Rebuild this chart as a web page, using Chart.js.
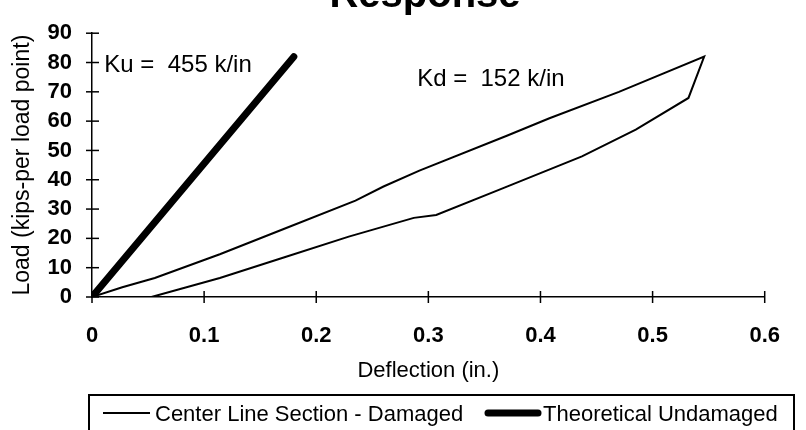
<!DOCTYPE html>
<html>
<head>
<meta charset="utf-8">
<script src="https://cdn.jsdelivr.net/npm/chart.js@4"></script>
<style>
  html, body { margin: 0; padding: 0; background: #fff; }
  #wrap { width: 806px; height: 430px; position: relative; }
</style>
</head>
<body>
<div id="wrap"><canvas id="myChart"></canvas></div>
<script>
const FONT = '"Liberation Sans", Arial, sans-serif';

// deflection (in.) / load (kips per load point)
const damagedX = [0, 0.027, 0.056, 0.114, 0.171, 0.235, 0.26, 0.292, 0.37, 0.408, 0.47, 0.546,
                  0.532, 0.485, 0.437, 0.364, 0.307, 0.287, 0.229, 0.171, 0.114, 0.053];
const damagedY = [0, 3.3, 6.5, 14.6, 23.2, 32.9, 37.7, 43.1, 55, 61, 70, 82,
                  67.9, 57.1, 48, 36.7, 28, 27, 20.6, 13.5, 6.5, 0];
const undamagedX = [0, 0.18];
const undamagedY = [0, 82];

const xTicks = [0, 0.1, 0.2, 0.3, 0.4, 0.5, 0.6];
const yTicks = [0, 10, 20, 30, 40, 50, 60, 70, 80, 90];

const seriesNames = ['Center Line Section - Damaged', 'Theoretical Undamaged'];
const notes = [
  { text: 'Ku =  455 k/in', x: 0.011, y: 79 },
  { text: 'Kd =  152 k/in', x: 0.29, y: 74.4 }
];

const toPoints = (xs, ys) => xs.map((x, i) => ({ x: x, y: ys[i] }));

// little ticks crossing each axis, title, notes and the boxed legend
const extras = {
  id: 'extras',
  afterDraw(chart) {
    const c = chart.ctx;
    const xs = chart.scales.x, ys = chart.scales.y;
    const x0 = xs.getPixelForValue(0), y0 = ys.getPixelForValue(0);
    c.save();
    c.strokeStyle = '#000';
    c.lineWidth = 1.5;
    yTicks.forEach(v => {
      const p = ys.getPixelForValue(v);
      c.beginPath(); c.moveTo(x0 - 6, p); c.lineTo(x0 + 7, p); c.stroke();
    });
    xTicks.forEach(v => {
      const p = xs.getPixelForValue(v);
      c.beginPath(); c.moveTo(p, y0 - 6); c.lineTo(p, y0 + 6); c.stroke();
    });

    c.fillStyle = '#000';
    c.font = 'bold 40px ' + FONT;
    c.textAlign = 'center';
    c.textBaseline = 'alphabetic';
    c.fillText('Response', 425, 7);

    c.font = '24px ' + FONT;
    c.textAlign = 'left';
    c.textBaseline = 'middle';
    notes.forEach(n => c.fillText(n.text, xs.getPixelForValue(n.x), ys.getPixelForValue(n.y)));

    // legend
    c.lineWidth = 2;
    c.strokeRect(89, 395, 705, 60);
    const ds = chart.data.datasets;
    const items = [{ x: 103, len: 47 }, { x: 488, len: 50 }];
    c.font = '22px ' + FONT;
    items.forEach((it, i) => {
      c.lineWidth = ds[i].borderWidth;
      c.lineCap = i === 1 ? 'round' : 'butt';
      c.beginPath(); c.moveTo(it.x, 413); c.lineTo(it.x + it.len, 413); c.stroke();
      c.fillText(ds[i].label, it.x + it.len + 5, 415);
    });
    c.restore();
  }
};

const CONFIG = {
  type: 'scatter',
  data: {
    datasets: [{
      label: seriesNames[0],
      data: toPoints(damagedX, damagedY),
      showLine: true,
      borderColor: '#000',
      borderWidth: 2,
      pointRadius: 0,
      tension: 0
    }, {
      label: seriesNames[1],
      data: toPoints(undamagedX, undamagedY),
      showLine: true,
      borderColor: '#000',
      borderWidth: 7,
      borderCapStyle: 'round',
      pointRadius: 0,
      tension: 0
    }]
  },
  options: {
    responsive: false,
    animation: false,
    layout: { padding: { top: 18, right: 20, bottom: 40, left: 0 } },
    plugins: { legend: { display: false }, tooltip: { enabled: false } },
    scales: {
      x: {
        type: 'linear',
        min: 0,
        max: 0.6,
        afterBuildTicks: s => { s.ticks = xTicks.map(v => ({ value: v })); },
        afterFit: s => { s.height = 93; },
        grid: { display: false, drawTicks: false, tickLength: 0 },
        border: { display: true, color: '#000', width: 1.5 },
        ticks: { color: '#000', padding: 26, autoSkip: false, maxRotation: 0,
                 font: { family: FONT, size: 22, weight: 'bold' },
                 callback: v => String(v) },
        title: { display: true, text: 'Deflection (in.)', color: '#000',
                 font: { family: FONT, size: 22 }, padding: { top: 0, bottom: 6 } }
      },
      y: {
        type: 'linear',
        min: 0,
        max: 90,
        afterBuildTicks: s => { s.ticks = yTicks.map(v => ({ value: v })); },
        afterFit: s => { s.width = 92; },
        grid: { display: false, drawTicks: false, tickLength: 0 },
        border: { display: true, color: '#000', width: 1.5 },
        ticks: { color: '#000', padding: 20, autoSkip: false,
                 font: { family: FONT, size: 22, weight: 'bold' } },
        title: { display: true, text: 'Load (kips-per load point)', color: '#000',
                 font: { family: FONT, size: 23 }, padding: { top: 9, bottom: 0 } }
      }
    }
  },
  plugins: [extras]
};

const ctx = document.getElementById('myChart');
ctx.width = 806;
ctx.height = 430;
new Chart(ctx, CONFIG);
</script>
</body>
</html>
